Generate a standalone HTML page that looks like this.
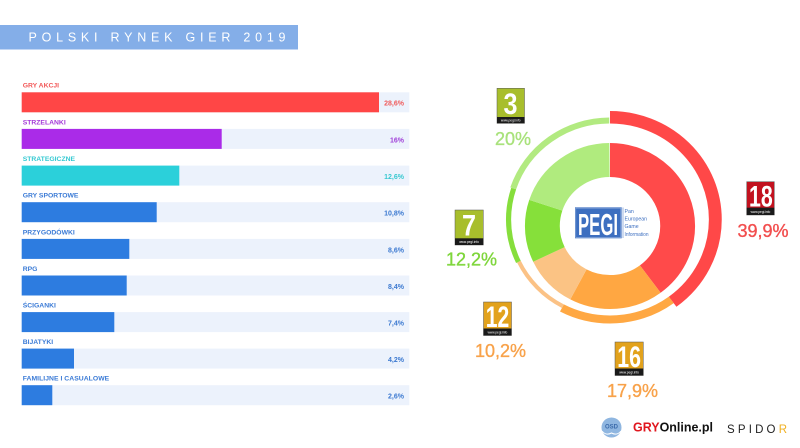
<!DOCTYPE html>
<html><head><meta charset="utf-8"><style>
html,body{margin:0;padding:0;background:#fff;}
svg{display:block;}
text{font-family:"Liberation Sans",Arial,sans-serif;}
</style></head><body>
<svg width="800" height="448" viewBox="0 0 800 448" xmlns="http://www.w3.org/2000/svg">
<rect width="800" height="448" fill="#fff"/>
<!-- Title banner -->
<rect x="0" y="25" width="298" height="24.5" fill="#84aee8"/>
<text x="28.5" y="41.7" font-size="12.5" fill="#fff" textLength="257" lengthAdjust="spacing">POLSKI RYNEK GIER 2019</text>

<!-- Bars -->
<g font-weight="bold">
<g>
<rect x="21.7" y="92.3" width="387.6" height="20" fill="#ecf2fc"/>
<rect x="21.7" y="92.3" width="357.3" height="20" fill="#ff4646"/>
<text x="22.7" y="87.7" font-size="6.8" fill="#f25858">GRY AKCJI</text>
<text x="404" y="105.7" font-size="7" fill="#f05a5a" text-anchor="end">28,6%</text>
</g>
<g>
<rect x="21.7" y="128.9" width="387.6" height="20" fill="#ecf2fc"/>
<rect x="21.7" y="128.9" width="200" height="20" fill="#aa2be8"/>
<text x="22.7" y="124.3" font-size="6.8" fill="#a43ad8">STRZELANKI</text>
<text x="404" y="142.3" font-size="7" fill="#a040d8" text-anchor="end">16%</text>
</g>
<g>
<rect x="21.7" y="165.6" width="387.6" height="20" fill="#ecf2fc"/>
<rect x="21.7" y="165.6" width="157.6" height="20" fill="#2bd0da"/>
<text x="22.7" y="161" font-size="6.8" fill="#35c9d2">STRATEGICZNE</text>
<text x="404" y="179" font-size="7" fill="#38c8d0" text-anchor="end">12,6%</text>
</g>
<g>
<rect x="21.7" y="202.2" width="387.6" height="20" fill="#ecf2fc"/>
<rect x="21.7" y="202.2" width="135" height="20" fill="#2d7ce0"/>
<text x="22.7" y="197.6" font-size="6.8" fill="#3b7bd6">GRY SPORTOWE</text>
<text x="404" y="215.6" font-size="7" fill="#3a78d0" text-anchor="end">10,8%</text>
</g>
<g>
<rect x="21.7" y="238.9" width="387.6" height="20" fill="#ecf2fc"/>
<rect x="21.7" y="238.9" width="107.6" height="20" fill="#2d7ce0"/>
<text x="22.7" y="234.3" font-size="6.8" fill="#3b7bd6">PRZYGODÓWKI</text>
<text x="404" y="252.3" font-size="7" fill="#3a78d0" text-anchor="end">8,6%</text>
</g>
<g>
<rect x="21.7" y="275.5" width="387.6" height="20" fill="#ecf2fc"/>
<rect x="21.7" y="275.5" width="105" height="20" fill="#2d7ce0"/>
<text x="22.7" y="270.9" font-size="6.8" fill="#3b7bd6">RPG</text>
<text x="404" y="288.9" font-size="7" fill="#3a78d0" text-anchor="end">8,4%</text>
</g>
<g>
<rect x="21.7" y="312.1" width="387.6" height="20" fill="#ecf2fc"/>
<rect x="21.7" y="312.1" width="92.6" height="20" fill="#2d7ce0"/>
<text x="22.7" y="307.5" font-size="6.8" fill="#3b7bd6">ŚCIGANKI</text>
<text x="404" y="325.5" font-size="7" fill="#3a78d0" text-anchor="end">7,4%</text>
</g>
<g>
<rect x="21.7" y="348.6" width="387.6" height="20" fill="#ecf2fc"/>
<rect x="21.7" y="348.6" width="52.3" height="20" fill="#2d7ce0"/>
<text x="22.7" y="344" font-size="6.8" fill="#3b7bd6">BIJATYKI</text>
<text x="404" y="362" font-size="7" fill="#3a78d0" text-anchor="end">4,2%</text>
</g>
<g>
<rect x="21.7" y="385.2" width="387.6" height="20" fill="#ecf2fc"/>
<rect x="21.7" y="385.2" width="30.6" height="20" fill="#2d7ce0"/>
<text x="22.7" y="380.6" font-size="6.8" fill="#3b7bd6" textLength="86.5">FAMILIJNE I CASUALOWE</text>
<text x="404" y="398.6" font-size="7" fill="#3a78d0" text-anchor="end">2,6%</text>
</g>
</g>

<!-- Outer ring -->
<g transform="translate(610 219.5) scale(1.03 1) rotate(-90)" fill="none">
<circle r="102.25" stroke="#ff4848" stroke-width="12.5" pathLength="100" stroke-dasharray="39.9 200" stroke-dashoffset="0"/>
<circle r="100" stroke="#ffa843" stroke-width="8" pathLength="100" stroke-dasharray="17.9 200" stroke-dashoffset="-39.9"/>
<circle r="98" stroke="#fbc286" stroke-width="4" pathLength="100" stroke-dasharray="10.2 200" stroke-dashoffset="-57.8"/>
<circle r="98.5" stroke="#86de3c" stroke-width="5" pathLength="100" stroke-dasharray="12.2 200" stroke-dashoffset="-68"/>
<circle r="99" stroke="#b2ea80" stroke-width="6" pathLength="100" stroke-dasharray="19.8 200" stroke-dashoffset="-80.2"/>
</g>

<!-- Inner donut -->
<g transform="translate(610 226) scale(1.025 1) rotate(-90)" fill="none">
<circle r="66" stroke="#ff4a4a" stroke-width="34" pathLength="100" stroke-dasharray="39.9 200" stroke-dashoffset="0"/>
<circle r="66" stroke="#ffa742" stroke-width="34" pathLength="100" stroke-dasharray="17.9 200" stroke-dashoffset="-39.9"/>
<circle r="66" stroke="#fbc384" stroke-width="34" pathLength="100" stroke-dasharray="10.2 200" stroke-dashoffset="-57.8"/>
<circle r="66" stroke="#86e03a" stroke-width="34" pathLength="100" stroke-dasharray="12.2 200" stroke-dashoffset="-68"/>
<circle r="66" stroke="#b0eb7e" stroke-width="34" pathLength="100" stroke-dasharray="19.8 200" stroke-dashoffset="-80.2"/>
</g>

<!-- PEGI logo -->
<rect x="575" y="207.3" width="46.7" height="31" fill="#3d6fc0"/>
<rect x="575.8" y="208.1" width="45.1" height="29.4" fill="none" stroke="#9fb8e0" stroke-width="0.6"/>
<text x="578" y="235" font-size="31" font-weight="bold" fill="#fff" textLength="40" lengthAdjust="spacingAndGlyphs">PEGI</text>
<line x1="623" y1="207.5" x2="623" y2="238" stroke="#3d6fc0" stroke-width="0.5"/>
<g font-size="5.2" fill="#3d6fc0">
<text x="624.5" y="213">Pan</text>
<text x="624.5" y="220.5">European</text>
<text x="624.5" y="228">Game</text>
<text x="624.5" y="236" textLength="24" lengthAdjust="spacingAndGlyphs">Information</text>
</g>

<!-- Badges -->
<g>
<rect x="497" y="88.3" width="27.5" height="35" fill="#a8be2c" stroke="#555" stroke-width="0.5"/>
<rect x="497" y="117" width="27.5" height="6.3" fill="#1a1a1a"/>
<text x="510.75" y="121.6" font-size="3.2" fill="#fff" text-anchor="middle">www.pegi.info</text>
<text x="503.5" y="114" font-size="30" font-weight="bold" fill="#fff" textLength="14" lengthAdjust="spacingAndGlyphs">3</text>
</g>
<g>
<rect x="746.7" y="181.7" width="27.6" height="33.3" fill="#c2121f" stroke="#555" stroke-width="0.5"/>
<rect x="746.7" y="207.7" width="27.6" height="7.3" fill="#1a1a1a"/>
<text x="760.5" y="212.8" font-size="3.2" fill="#fff" text-anchor="middle">www.pegi.info</text>
<text x="749" y="206.5" font-size="30" font-weight="bold" fill="#fff" textLength="23.7" lengthAdjust="spacingAndGlyphs">18</text>
</g>
<g>
<rect x="455" y="210" width="28.3" height="35" fill="#a8be2c" stroke="#555" stroke-width="0.5"/>
<rect x="455" y="238.3" width="28.3" height="6.7" fill="#1a1a1a"/>
<text x="469.1" y="243" font-size="3.2" fill="#fff" text-anchor="middle">www.pegi.info</text>
<text x="462" y="235.5" font-size="30" font-weight="bold" fill="#fff" textLength="14" lengthAdjust="spacingAndGlyphs">7</text>
</g>
<g>
<rect x="483.5" y="302" width="28" height="33.5" fill="#e2a21c" stroke="#555" stroke-width="0.5"/>
<rect x="483.5" y="328.5" width="28" height="7" fill="#1a1a1a"/>
<text x="497.5" y="333.4" font-size="3.2" fill="#fff" text-anchor="middle">www.pegi.info</text>
<text x="485.8" y="327" font-size="30" font-weight="bold" fill="#fff" textLength="23.5" lengthAdjust="spacingAndGlyphs">12</text>
</g>
<g>
<rect x="615" y="342" width="28.3" height="33.5" fill="#e2a21c" stroke="#555" stroke-width="0.5"/>
<rect x="615" y="368.5" width="28.3" height="7" fill="#1a1a1a"/>
<text x="629.1" y="373.4" font-size="3.2" fill="#fff" text-anchor="middle">www.pegi.info</text>
<text x="617.3" y="367" font-size="30" font-weight="bold" fill="#fff" textLength="23.7" lengthAdjust="spacingAndGlyphs">16</text>
</g>

<!-- Percent labels -->
<g font-size="18" stroke-width="0.35">
<text x="495" y="145" fill="#a9e27c" stroke="#a9e27c">20%</text>
<text x="737.5" y="236.8" fill="#f24e4e" stroke="#f24e4e">39,9%</text>
<text x="446" y="265.7" fill="#7fd63c" stroke="#7fd63c">12,2%</text>
<text x="475" y="357" fill="#f8a24a" stroke="#f8a24a">10,2%</text>
<text x="607" y="397" fill="#f8a24a" stroke="#f8a24a">17,9%</text>
</g>

<!-- Bottom logos -->
<circle cx="611.5" cy="427.5" r="10" fill="#8fb6e0"/>
<path d="M602 431 Q606 436 611.5 433 Q617 436 621 431" stroke="#fff" stroke-width="1" fill="none"/>
<text x="611.5" y="428.5" font-size="6" font-weight="bold" fill="#3a6aaa" text-anchor="middle">OSD</text>
<text x="633" y="431.5" font-size="12.5" font-weight="bold" textLength="80" lengthAdjust="spacingAndGlyphs"><tspan fill="#e0161e">GRY</tspan><tspan fill="#111">Online.pl</tspan></text>
<text x="727" y="433" font-size="11.5" fill="#222" textLength="60" lengthAdjust="spacing">SPIDO<tspan fill="#f0b020">R</tspan></text>
</svg>
</body></html>
